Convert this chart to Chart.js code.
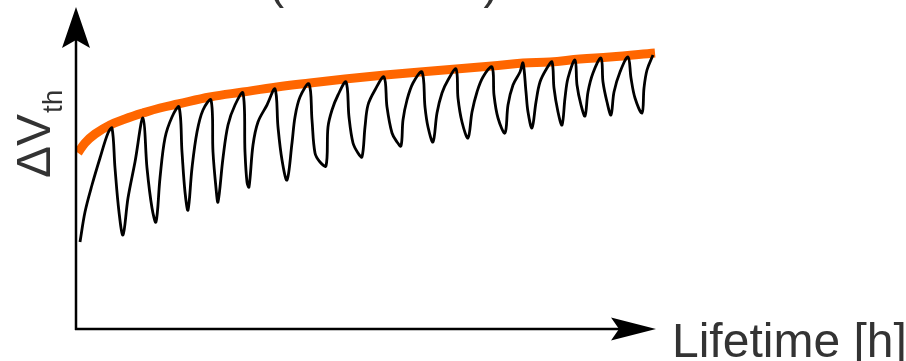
<!DOCTYPE html>
<html>
<head>
<meta charset="utf-8">
<script src="https://cdn.jsdelivr.net/npm/chart.js@4"></script>
<style>
    body { margin: 0; background: #fff; }
    canvas { display: block; }
</style>
</head>
<body>
<canvas id="shiftChart" width="906" height="361"></canvas>
<script>
// values, arbitrary units (no ticks on the original)
const stressTime = [
    4, 9, 16, 24, 32, 36, 39, 43, 47, 52, 59, 67, 71, 76, 80,
    84, 89, 96, 103, 106, 109, 112, 116, 121, 127, 135, 137, 140, 142,
    147, 152, 159, 167, 169, 171, 173, 177, 182, 191, 199, 202, 206, 211,
    216, 219, 224, 233, 236, 239, 244, 250, 252, 256, 262, 270, 273, 277, 282, 286,
    289, 292, 299, 308, 311, 316, 321, 325, 327, 331, 337, 346, 349, 352, 357,
    361, 366, 372, 380, 382, 386, 392, 396, 401, 407, 416, 418, 422, 429,
    432, 437, 444, 447, 450, 452, 456, 460, 464, 471, 476, 478, 482, 486,
    489, 492, 499, 501, 505, 509, 512, 517, 525, 527, 531, 535,
    538, 544, 552, 555, 559, 566, 568, 571, 577
];
const stressShift = [
    87, 117, 144, 171, 196, 201, 161, 117, 94, 131, 167, 211, 161, 121, 107,
    151, 191, 212, 222, 177, 137, 119, 161, 197, 219, 229, 177, 141, 127,
    171, 204, 224, 236, 177, 147, 142, 184, 207, 224, 240, 202, 169, 149,
    186, 212, 232, 245, 209, 176, 167, 163, 202, 219, 234, 247, 212, 186, 176, 172,
    202, 224, 239, 252, 222, 196, 187, 183, 209, 229, 246, 257, 222, 202, 187,
    216, 236, 249, 260, 231, 207, 191, 217, 237, 252, 262, 234, 211, 196,
    224, 244, 257, 266, 237, 217, 201, 227, 247, 261, 267, 241, 217, 204,
    231, 251, 269, 244, 224, 213, 237, 256, 271, 247, 227, 214,
    237, 257, 272, 251, 231, 216, 241, 259, 274
];

const envelopeTime = [2, 9, 19, 34, 49, 67, 84, 102, 134, 167, 201, 234, 269, 309, 344, 380, 416, 447, 474, 504, 534, 579];
const envelopeShift = [176, 186, 195, 204, 210, 216, 221, 225, 232, 237, 242, 246, 250, 254, 257, 260, 263, 266, 267, 270, 272, 276];

const titleText = "Lifetime (AC stress)";
const xLabel = "Lifetime [h]";
const yLabel = "\u0394V";
const ySub = "th";

function toPoints(xs, ys) {
    return xs.map((x, i) => ({ x: x, y: ys[i] }));
}

const textColor = "#333333";

// arrows, axis names and the cut-off title
const sketchAxes = {
    id: "sketchAxes",
    afterDatasetsDraw(chart) {
        const ctx = chart.ctx;
        const a = chart.chartArea;
        const x0 = a.left;
        const y0 = a.bottom;

        ctx.save();
        ctx.strokeStyle = "#000";
        ctx.fillStyle = "#000";
        ctx.lineWidth = 2.5;

        ctx.beginPath();
        ctx.moveTo(x0, y0 + 1);
        ctx.lineTo(x0, a.top + 30);
        ctx.moveTo(x0 - 1, y0);
        ctx.lineTo(a.right - 30, y0);
        ctx.stroke();

        // y arrow
        ctx.beginPath();
        ctx.moveTo(x0, a.top);
        ctx.lineTo(x0 + 14, a.top + 41);
        ctx.lineTo(x0, a.top + 33);
        ctx.lineTo(x0 - 14, a.top + 41);
        ctx.closePath();
        ctx.fill();

        // x arrow
        ctx.beginPath();
        ctx.moveTo(a.right, y0);
        ctx.lineTo(a.right - 45, y0 - 11.5);
        ctx.lineTo(a.right - 37, y0);
        ctx.lineTo(a.right - 45, y0 + 11.5);
        ctx.closePath();
        ctx.fill();

        ctx.fillStyle = textColor;
        ctx.textBaseline = "alphabetic";
        ctx.textAlign = "left";

        ctx.font = "48px 'Liberation Sans', Arial, sans-serif";
        ctx.fillText(xLabel, 672, 357);

        ctx.font = "46px 'Liberation Sans', Arial, sans-serif";
        ctx.fillText(titleText, 95, -2);

        ctx.translate(50, 178);
        ctx.rotate(-Math.PI / 2);
        ctx.font = "48px 'Liberation Sans', Arial, sans-serif";
        ctx.fillText(yLabel, 0, 0);
        const w = ctx.measureText(yLabel).width;
        ctx.font = "28px 'Liberation Sans', Arial, sans-serif";
        ctx.fillText(ySub, w + 1, 12);
        ctx.restore();
    }
};

new Chart(document.getElementById("shiftChart"), {
    type: "line",
    data: {
        datasets: [
            {
                label: "cyclic",
                data: toPoints(stressTime, stressShift),
                borderColor: "#000000",
                borderWidth: 2.8,
                tension: 0.35,
                pointRadius: 0
            },
            {
                label: "envelope",
                data: toPoints(envelopeTime, envelopeShift),
                borderColor: "#ff6600",
                borderWidth: 9,
                tension: 0.4,
                pointRadius: 0
            }
        ]
    },
    options: {
        responsive: false,
        animation: false,
        layout: {
            padding: { left: 76, right: 250, top: 7, bottom: 32 }
        },
        scales: {
            x: { type: "linear", min: 0, max: 580, display: false },
            y: { type: "linear", min: 0, max: 322, display: false }
        },
        plugins: {
            legend: { display: false },
            tooltip: { enabled: false }
        }
    },
    plugins: [sketchAxes]
});
</script>
</body>
</html>
